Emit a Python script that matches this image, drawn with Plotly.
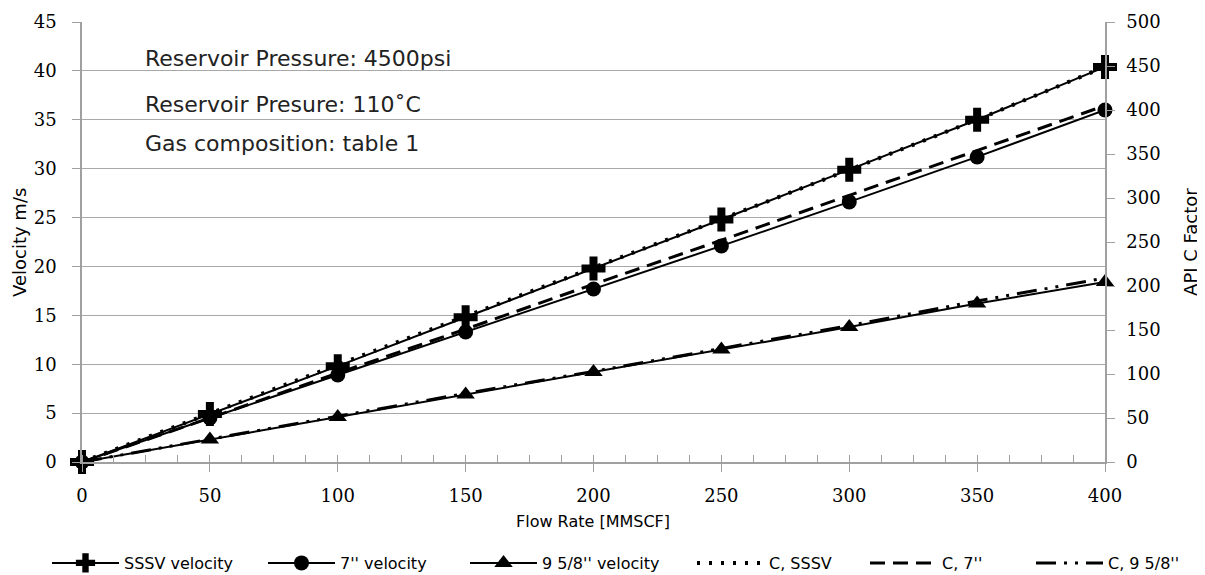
import plotly.graph_objects as go

flow = [0, 50, 100, 150, 200, 250, 300, 350, 400]
v_sssv = [0, 4.9, 9.8, 14.8, 19.8, 24.8, 29.9, 35.0, 40.4]
v_7 = [0, 4.5, 8.9, 13.3, 17.7, 22.1, 26.6, 31.2, 36.0]
v_958 = [0, 2.3, 4.6, 6.9, 9.2, 11.5, 13.8, 16.2, 18.4]
c_sssv = [0, 55, 110, 165, 220, 276, 332, 389, 449]
c_7 = [0, 50, 101, 151, 202, 252, 303, 354, 405]
c_958 = [0, 26, 52, 78, 103, 129, 155, 183, 209]

series_names = ["SSSV velocity", "7'' velocity", "9 5/8'' velocity", "C, SSSV", "C, 7''", "C, 9 5/8''"]
notes = ["Reservoir Pressure: 4500psi", "Reservoir Presure: 110˚C", "Gas composition: table 1"]
note_y = [41.3, 36.6, 32.6]

txt_font = "DejaVu Sans"
num_font = "DejaVu Serif"
grey = "#a0a0a0"
W, H = 1197, 567
legend_px = [39, 255, 457, 684, 857, 1023]  # left edge of each legend entry (figure px)
legend_ids = ["legend", "legend2", "legend3", "legend4", "legend5", "legend6"]

fig = go.Figure()
fig.add_trace(go.Scatter(x=flow, y=v_sssv, name=series_names[0], mode="lines+markers", legend=legend_ids[0],
                         line=dict(color="black", width=2), cliponaxis=False,
                         marker=dict(symbol="cross", size=20, color="black")))
fig.add_trace(go.Scatter(x=flow, y=v_7, name=series_names[1], mode="lines+markers", legend=legend_ids[1],
                         line=dict(color="black", width=2), cliponaxis=False,
                         marker=dict(symbol="circle", size=15, color="black")))
fig.add_trace(go.Scatter(x=flow, y=v_958, name=series_names[2], mode="lines+markers", legend=legend_ids[2],
                         line=dict(color="black", width=2), cliponaxis=False,
                         marker=dict(symbol="triangle-up", size=16, color="black")))
fig.add_trace(go.Scatter(x=flow, y=c_sssv, name=series_names[3], mode="lines", yaxis="y2", legend=legend_ids[3],
                         line=dict(color="black", width=4, dash="3px,9px")))
fig.add_trace(go.Scatter(x=flow, y=c_7, name=series_names[4], mode="lines", yaxis="y2", legend=legend_ids[4],
                         line=dict(color="black", width=3, dash="15px,8px")))
fig.add_trace(go.Scatter(x=flow, y=c_958, name=series_names[5], mode="lines", yaxis="y2", legend=legend_ids[5],
                         line=dict(color="black", width=3, dash="20px,8px,3px,8px,3px,8px")))

for t, yy in zip(notes, note_y):
    fig.add_annotation(x=24, xref="x", xanchor="left", y=yy, yref="y",
                       text=t, showarrow=False, font=dict(family=txt_font, size=22, color="#222"))

# axis titles
fig.add_annotation(x=0.4995, xref="paper", y=-0.136, yref="paper", xanchor="center", yanchor="middle",
                   text="Flow Rate [MMSCF]", showarrow=False, font=dict(family=txt_font, size=16))
fig.add_annotation(x=-0.0616, xref="paper", y=0.5, yref="paper", xanchor="center", yanchor="middle",
                   text="Velocity m/s", textangle=-90, showarrow=False, font=dict(family=txt_font, size=18))
fig.add_annotation(x=1.083, xref="paper", y=0.5, yref="paper", xanchor="center", yanchor="middle",
                   text="API C Factor", textangle=-90, showarrow=False, font=dict(family=txt_font, size=18))

legends = {}
for lid, px in zip(legend_ids, legend_px):
    legends[lid] = dict(orientation="h", x=px / W, xanchor="left", xref="container",
                        y=12 / H, yanchor="middle", yref="container",
                        font=dict(family=txt_font, size=16), itemwidth=67,
                        bgcolor="rgba(0,0,0,0)", borderwidth=0)

fig.update_layout(
    width=W, height=H,
    paper_bgcolor="white", plot_bgcolor="white",
    margin=dict(l=74, r=100, t=14, b=113),
    font=dict(family=txt_font, color="black"),
    xaxis=dict(range=[0, 400], dtick=50, showgrid=False, zeroline=False, automargin=False,
               showline=True, linecolor=grey, linewidth=1.5,
               ticks="outside", ticklen=8, tickcolor=grey,
               minor=dict(ticks="inside", dtick=12.5, ticklen=7, tickcolor=grey),
               tickfont=dict(family=num_font, size=18), ticklabelstandoff=9),
    yaxis=dict(range=[0, 45], dtick=5, showgrid=True, gridcolor="#a8a8a8", gridwidth=1.2,
               zeroline=False, showline=True, linecolor=grey, linewidth=1.5, automargin=False,
               ticks="outside", ticklen=8, tickcolor=grey, ticklabelstandoff=12,
               tickfont=dict(family=num_font, size=18)),
    yaxis2=dict(range=[0, 500], dtick=50, overlaying="y", side="right", showgrid=False,
                zeroline=False, showline=True, linecolor=grey, linewidth=1.5, automargin=False,
                ticks="outside", ticklen=8, tickcolor=grey,
                tickfont=dict(family=num_font, size=18), ticklabelstandoff=8),
    showlegend=True,
    **legends,
)

fig.write_html("out.html")
